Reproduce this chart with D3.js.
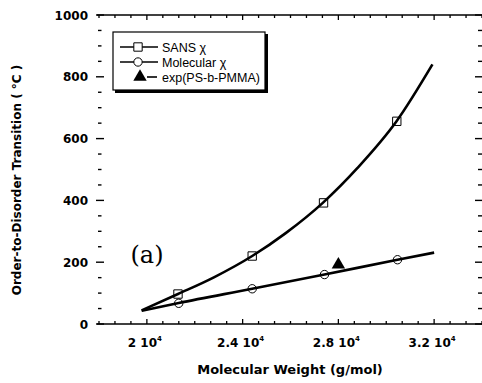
<!DOCTYPE html>
<html>
<head>
<meta charset="utf-8">
<script src="https://cdn.jsdelivr.net/npm/d3@7"></script>
<style>
  html, body { margin: 0; padding: 0; background: #fff; }
  svg { display: block; }
</style>
</head>
<body>
<svg id="chart" width="482" height="383"></svg>
<script>
// Order-disorder transition temperature vs. molecular weight

// Axis extents and tick labels
const xDomain = [18000, 34000];
const yDomain = [0, 1000];
const xMajorTicks = [20000, 24000, 28000, 32000];
const xTickMantissa = ["2", "2.4", "2.8", "3.2"];
const yMajorTicks = [0, 200, 400, 600, 800, 1000];

// SANS chi: symbols and fitted curve
const sansX = [21300, 24400, 27380, 30440];
const sansY = [97, 220, 392, 656];
const sansCurveX = [19780, 21300, 22800, 24400, 25800, 27350, 28800, 30430, 31930];
const sansCurveY = [44, 97, 151, 220, 294, 392, 505, 656, 840];

// Molecular chi: symbols and fitted curve
const molX = [21330, 24400, 27420, 30470];
const molY = [67, 114, 160, 208];
const molCurveX = [19780, 21330, 24400, 27420, 30470, 32000];
const molCurveY = [43, 68, 114, 160, 208, 231];

// Experimental point, PS-b-PMMA
const expX = [28000];
const expY = [192];

const legendLabels = ["SANS \u03C7", "Molecular \u03C7", "exp(PS-b-PMMA)"];

const svg = d3.select("#chart");
const plotLeft = 99, plotRight = 482, plotTop = 15, plotBottom = 324;

const x = d3.scaleLinear().domain(xDomain).range([plotLeft, plotRight]);
const y = d3.scaleLinear().domain(yDomain).range([plotBottom, plotTop]);

const boldFont = "'DejaVu Sans', sans-serif";

// Minor tick positions
const xMinor = d3.range(0, 25).map(i => xDomain[0] + i * 2000 / 3);
const yMinor = d3.range(0, 1001, 50);

// Frame lines (top and bottom)
svg.append("line").attr("x1", 97).attr("x2", plotRight).attr("y1", y(1000)).attr("y2", y(1000))
  .attr("stroke", "#000").attr("stroke-width", 1.6);
svg.append("line").attr("x1", 97).attr("x2", plotRight).attr("y1", y(0)).attr("y2", y(0))
  .attr("stroke", "#000").attr("stroke-width", 1.6);

const isMajorX = v => xMajorTicks.some(m => Math.abs(m - v) < 1);
const isMajorY = v => yMajorTicks.indexOf(v) >= 0;

// Bottom axis ticks (pointing up)
svg.append("g").selectAll("line").data(xMinor).join("line")
  .attr("x1", d => x(d)).attr("x2", d => x(d))
  .attr("y1", y(0)).attr("y2", d => y(0) - (isMajorX(d) ? 5 : 3))
  .attr("stroke", "#000").attr("stroke-width", 1.3);
// Top axis ticks (pointing down)
svg.append("g").selectAll("line").data(xMinor).join("line")
  .attr("x1", d => x(d)).attr("x2", d => x(d))
  .attr("y1", y(1000)).attr("y2", d => y(1000) + (isMajorX(d) ? 5 : 3))
  .attr("stroke", "#000").attr("stroke-width", 1.3);
// Left axis ticks
svg.append("g").selectAll("line").data(yMinor).join("line")
  .attr("x1", d => isMajorY(d) ? 96 : 98).attr("x2", d => isMajorY(d) ? 104 : 101.5)
  .attr("y1", d => y(d)).attr("y2", d => y(d))
  .attr("stroke", "#000").attr("stroke-width", 1.4);
// Right axis ticks
svg.append("g").selectAll("line").data(yMinor).join("line")
  .attr("x1", d => isMajorY(d) ? 475 : 478).attr("x2", 482)
  .attr("y1", d => y(d)).attr("y2", d => y(d))
  .attr("stroke", "#000").attr("stroke-width", 1.4);

// Y tick labels
svg.append("g").selectAll("text").data(yMajorTicks).join("text")
  .attr("x", 88).attr("y", d => y(d) + 4.5)
  .attr("text-anchor", "end")
  .attr("font-family", boldFont).attr("font-weight", "bold").attr("font-size", 12)
  .text(d => d);

// X tick labels: "m 10^4"
const xl = svg.append("g").selectAll("text").data(xMajorTicks).join("text")
  .attr("x", d => x(d) - 2).attr("y", 347)
  .attr("text-anchor", "middle")
  .attr("font-family", boldFont).attr("font-weight", "bold").attr("font-size", 12);
xl.each(function(d, i) {
  const t = d3.select(this);
  t.append("tspan").text(xTickMantissa[i] + " 10");
  t.append("tspan").attr("dy", -6).attr("font-size", 7).text("4");
});

// Axis titles
svg.append("text")
  .attr("x", 290).attr("y", 374).attr("text-anchor", "middle")
  .attr("font-family", boldFont).attr("font-weight", "bold").attr("font-size", 13)
  .text("Molecular Weight (g/mol)");
svg.append("text")
  .attr("transform", "translate(21,180) rotate(-90)")
  .attr("text-anchor", "middle")
  .attr("font-family", boldFont).attr("font-weight", "bold").attr("font-size", 12)
  .text("Order-to-Disorder Transition ( \u00B0C )");

// Curves
const toPts = (xs, ys) => xs.map((v, i) => [x(v), y(ys[i])]);
const lineGen = d3.line().curve(d3.curveMonotoneX);

svg.append("path").attr("d", lineGen(toPts(sansCurveX, sansCurveY)))
  .attr("fill", "none").attr("stroke", "#000").attr("stroke-width", 2.6);
svg.append("path").attr("d", lineGen(toPts(molCurveX, molCurveY)))
  .attr("fill", "none").attr("stroke", "#000").attr("stroke-width", 2.6);

// Symbols
const sq = d3.symbol().type(d3.symbolSquare).size(70);
const circ = d3.symbol().type(d3.symbolCircle).size(55);
const tri = d3.symbol().type(d3.symbolTriangle).size(78);

svg.append("g").selectAll("path").data(sansX).join("path")
  .attr("d", sq).attr("transform", (d, i) => `translate(${x(d)},${y(sansY[i])})`)
  .attr("fill", "none").attr("stroke", "#000").attr("stroke-width", 1);
svg.append("g").selectAll("path").data(molX).join("path")
  .attr("d", circ).attr("transform", (d, i) => `translate(${x(d)},${y(molY[i])})`)
  .attr("fill", "none").attr("stroke", "#000").attr("stroke-width", 1);
svg.append("g").selectAll("path").data(expX).join("path")
  .attr("d", tri).attr("transform", (d, i) => `translate(${x(d)},${y(expY[i])})`)
  .attr("fill", "#000");

// Panel label
svg.append("text").attr("x", 147).attr("y", 263).attr("text-anchor", "middle")
  .attr("font-family", "'DejaVu Serif', serif").attr("font-size", 24)
  .text("(a)");

// Legend
const lg = svg.append("g");
lg.append("rect").attr("x", 115).attr("y", 34).attr("width", 153).attr("height", 59).attr("fill", "#000");
lg.append("rect").attr("x", 113).attr("y", 32).attr("width", 152).attr("height", 58)
  .attr("fill", "#fff").attr("stroke", "#000").attr("stroke-width", 1.2);

const legY = [47, 62, 77];
// SANS entry
lg.append("line").attr("x1", 120).attr("x2", 158).attr("y1", legY[0]).attr("y2", legY[0])
  .attr("stroke", "#000").attr("stroke-width", 1.6);
lg.append("path").attr("d", sq).attr("transform", `translate(138,${legY[0]})`)
  .attr("fill", "#fff").attr("stroke", "#000").attr("stroke-width", 1);
// Molecular entry
lg.append("line").attr("x1", 120).attr("x2", 158).attr("y1", legY[1]).attr("y2", legY[1])
  .attr("stroke", "#000").attr("stroke-width", 1.6);
lg.append("path").attr("d", circ).attr("transform", `translate(138,${legY[1]})`)
  .attr("fill", "#fff").attr("stroke", "#000").attr("stroke-width", 1);
// Experiment entry
lg.append("line").attr("x1", 147).attr("x2", 157).attr("y1", legY[2]).attr("y2", legY[2])
  .attr("stroke", "#000").attr("stroke-width", 1.6);
lg.append("path").attr("d", tri).attr("transform", `translate(140,${legY[2]})`)
  .attr("fill", "#000");

lg.selectAll("text.lab").data(legendLabels).join("text")
  .attr("class", "lab")
  .attr("x", 162).attr("y", (d, i) => legY[i] + 4.5)
  .attr("font-family", "'Liberation Sans', Arial, sans-serif").attr("font-size", 12.5)
  .text(d => d);
</script>
</body>
</html>
